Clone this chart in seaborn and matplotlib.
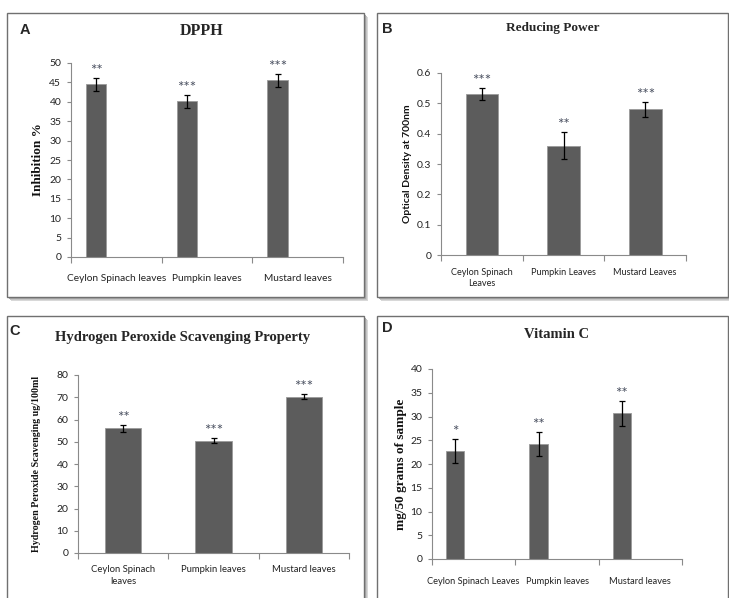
import numpy as np
import pandas as pd
import seaborn as sns
import matplotlib.pyplot as plt
from matplotlib.patches import Rectangle

# panel A - DPPH
dpph_labels = ["Ceylon Spinach leaves", "Pumpkin leaves", "Mustard leaves"]
dpph_values = [44.5, 40.1, 45.5]
dpph_err = [1.7, 1.7, 1.6]
dpph_stars = ["**", "***", "***"]

# panel B - reducing power
rp_labels = ["Ceylon Spinach\nLeaves", "Pumpkin Leaves", "Mustard Leaves"]
rp_values = [0.53, 0.36, 0.48]
rp_err = [0.02, 0.045, 0.025]
rp_stars = ["***", "**", "***"]

# panel C - hydrogen peroxide
hp_labels = ["Ceylon Spinach\nleaves", "Pumpkin leaves", "Mustard leaves"]
hp_values = [56.0, 50.5, 70.2]
hp_err = [1.4, 1.1, 1.2]
hp_stars = ["**", "***", "***"]

# panel D - vitamin C
vc_labels = ["Ceylon Spinach Leaves", "Pumpkin leaves", "Mustard leaves"]
vc_values = [22.8, 24.2, 30.7]
vc_err = [2.5, 2.6, 2.6]
vc_stars = ["*", "**", "**"]

sns.set_theme(style="ticks")
plt.rcParams['font.family'] = ['Lato', 'DejaVu Sans']

BAR = "#5c5c5c"
AXC = "#8a8a8a"
W, H = 729, 598

fig = plt.figure(figsize=(7.29, 5.98), dpi=100)


def px_box(x0, y0, x1, y1):
    # pixel box -> figure fraction rect
    return [x0 / W, 1 - y1 / H, (x1 - x0) / W, (y1 - y0) / H]


def frame(x0, y0, x1, y1):
    for k, c in [(4, "#d8d8d8"), (3, "#c4c4c4"), (2, "#aaaaaa")]:
        sh = Rectangle(((x0 + k) / W, 1 - (y1 + k) / H), (x1 - x0) / W, (y1 - y0) / H,
                       transform=fig.transFigure, facecolor=c, edgecolor="none",
                       zorder=-3)
        fig.patches.append(sh)
    bx = Rectangle((x0 / W, 1 - y1 / H), (x1 - x0) / W, (y1 - y0) / H,
                   transform=fig.transFigure, facecolor="white", edgecolor="#707070",
                   linewidth=1.0, zorder=-2)
    fig.patches.append(bx)


def panel(rect, labels, values, err, stars, width, shift, ymax, ystep, fmt,
          ylabel, ylab_x, ylab_font, ylab_size, xfs, xpad):
    ax = fig.add_axes(rect)
    ax.set_facecolor("none")
    df = pd.DataFrame({"sample": labels, "value": values})
    sns.barplot(data=df, x="sample", y="value", ax=ax, color=BAR, width=width,
                edgecolor="#9a9a9a", linewidth=0.6, errorbar=None, saturation=1)
    pos = np.arange(len(values))
    ax.errorbar(pos, values, yerr=err, fmt="none", ecolor="black",
                elinewidth=0.9, capsize=2.5, capthick=0.9)
    for i in pos:
        ax.annotate(stars[i], (i, values[i] + err[i]), xytext=(0, 0),
                    textcoords="offset points", ha="center", va="bottom",
                    fontsize=11, color="#4a5060")
    n = len(values)
    ax.set_xlim(-0.5 + shift, n - 0.5 + shift)
    ax.set_xticks(np.arange(n + 1) - 0.5 + shift)
    ax.set_xticklabels([])
    ax.set_xticks(pos + shift, minor=True)
    ax.set_xticklabels(labels, minor=True, fontsize=xfs, color="#222222",
                       linespacing=1.35)
    ax.tick_params(axis="x", which="minor", length=0, pad=xpad)
    ax.tick_params(axis="x", which="major", length=4, color=AXC, width=0.8)
    ax.set_ylim(0, ymax)
    ticks = np.arange(0, ymax + ystep / 2, ystep)
    ax.set_yticks(ticks)
    ax.set_yticklabels([fmt(t) for t in ticks], fontsize=7.5, color="#222222")
    ax.tick_params(axis="y", length=3, color=AXC, width=0.8, pad=4)
    sns.despine(ax=ax)
    for s in ("left", "bottom"):
        ax.spines[s].set_color(AXC)
        ax.spines[s].set_linewidth(0.8)
    ax.set_xlabel("")
    ax.set_ylabel(ylabel, fontsize=ylab_size, fontweight="bold",
                  family=ylab_font, color="#111111")
    ax.yaxis.set_label_coords(ylab_x, 0.5)
    return ax


frame(7, 13, 364, 297)
frame(377, 13, 728, 297)
frame(7, 316, 364, 602)
frame(377, 316, 728, 602)

ax_a = panel(px_box(71, 63, 343, 257), dpph_labels, dpph_values, dpph_err, dpph_stars,
             0.222, 0.222, 50, 5, lambda t: f"{t:.0f}",
             "Inhibition %", -0.10, ['Liberation Serif'], 9.5, 7.3, 12)
ax_b = panel(px_box(441, 73, 686, 255), rp_labels, rp_values, rp_err, rp_stars,
             0.4, 0.0, 0.6, 0.1, lambda t: "0" if t == 0 else f"{t:.1f}",
             "Optical Density at 700nm", -0.12, ['Lato'], 7.5, 6.6, 9)
ax_c = panel(px_box(78, 375, 349, 553), hp_labels, hp_values, hp_err, hp_stars,
             0.4, 0.0, 80, 10, lambda t: f"{t:.0f}",
             "Hydrogen Peroxide Scavenging ug/100ml", -0.135, ['Liberation Serif'], 7.2,
             6.8, 9)
ax_d = panel(px_box(432, 369, 682, 559), vc_labels, vc_values, vc_err, vc_stars,
             0.222, 0.222, 40, 5, lambda t: f"{t:.0f}",
             "mg/50 grams of sample", -0.10, ['Liberation Serif'], 9.5, 6.7, 13)

serif = ['Liberation Serif']
sans = ['Liberation Sans']
fig.text(202 / W, 1 - 31 / H, "DPPH", family=serif, fontweight="bold", fontsize=11.5,
         ha="center", va="center")
fig.text(553 / W, 1 - 28 / H, "Reducing Power", family=serif, fontweight="bold",
         fontsize=9.5, ha="center", va="center")
fig.text(183 / W, 1 - 337 / H, "Hydrogen Peroxide Scavenging Property", family=serif,
         fontweight="bold", fontsize=10.5, ha="center", va="center")
fig.text(557 / W, 1 - 335 / H, "Vitamin C", family=serif, fontweight="bold",
         fontsize=10.5, ha="center", va="center")

for letter, x, y in [("A", 25, 30), ("B", 387, 29), ("C", 15, 331), ("D", 387, 328)]:
    fig.text(x / W, 1 - y / H, letter, family=sans, fontweight="bold", fontsize=10.5,
             ha="center", va="center")

fig.savefig("out.png", dpi=100)
